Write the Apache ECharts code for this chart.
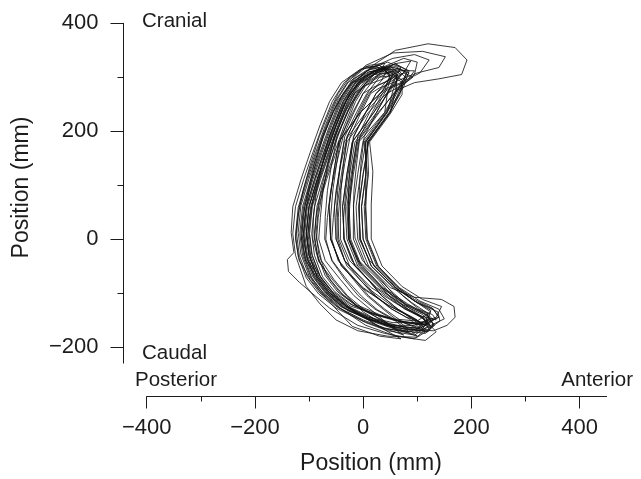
<!DOCTYPE html>
<html>
<head>
<meta charset="utf-8">
<script src="https://cdn.jsdelivr.net/npm/echarts@6/dist/echarts.min.js"></script>
<style>html,body{margin:0;padding:0;background:#fff}#c{width:641px;height:479px}</style>
</head>
<body>
<div id="c"></div>
<script>
// Axis ticks and labels
const xMajorTicks = [-400, -200, 0, 200, 400];
const xMinorTicks = [-300, -100, 100, 300];
const yMajorTicks = [-200, 0, 200, 400];
const yMinorTicks = [-100, 100, 300];
const xName = 'Position (mm)';
const yName = 'Position (mm)';
const annotTop = 'Cranial';
const annotBottom = 'Caudal';
const annotLeft = 'Posterior';
const annotRight = 'Anterior';

// Breathing trajectories [anterior-posterior, cranial-caudal] in mm
const trace01 = [[100,-168],[50,-158],[10,-145],[-30,-125],[-62,-100],[-85,-70],[-100,-30],[-105,10],[-100,60],[-85,110],[-68,160],[-50,210],[-32,255],[-10,290],[20,312],[50,320],[70,305],[50,275],[20,235],[-20,180],[-30,120],[-38,60],[-35,0],[-15,-50],[25,-90],[70,-120],[110,-140],[125,-155],[100,-168]];
const trace02 = [[90,-175],[40,-165],[0,-150],[-45,-127],[-77,-100],[-100,-68],[-115,-28],[-120,12],[-115,62],[-100,112],[-83,162],[-65,212],[-47,256],[-22,288],[10,305],[40,312],[58,298],[45,272],[40,235],[0,182],[-10,120],[-18,62],[-15,2],[5,-48],[45,-90],[80,-122],[120,-142],[130,-160],[90,-175]];
const trace03 = [[110,-160],[62,-152],[20,-140],[-25,-120],[-57,-97],[-80,-68],[-95,-28],[-100,12],[-95,62],[-80,112],[-63,162],[-45,212],[-27,257],[-5,292],[28,315],[60,325],[82,312],[68,282],[45,237],[5,180],[5,120],[-3,60],[0,0],[20,-50],[60,-90],[95,-115],[130,-130],[140,-145],[110,-160]];
const trace04 = [[120,-172],[65,-165],[15,-150],[-35,-128],[-67,-102],[-90,-72],[-105,-32],[-110,10],[-105,60],[-90,110],[-73,160],[-55,210],[-37,255],[-15,290],[15,320],[60,350],[120,362],[170,355],[192,332],[182,305],[140,297],[95,290],[60,275],[30,235],[-10,180],[-20,120],[-28,60],[-25,0],[-5,-50],[35,-90],[75,-120],[115,-140],[130,-158],[120,-172]];
const trace05 = [[95,-178],[45,-170],[5,-155],[-50,-128],[-82,-102],[-105,-72],[-120,-32],[-125,8],[-120,58],[-105,110],[-88,160],[-70,210],[-52,255],[-28,292],[5,322],[55,345],[110,348],[152,338],[140,318],[100,308],[60,292],[45,272],[10,235],[-30,180],[-40,120],[-48,60],[-45,0],[-25,-50],[15,-90],[62,-120],[105,-142],[122,-160],[95,-178]];
const trace06 = [[105,-158],[58,-150],[20,-138],[-20,-122],[-52,-98],[-75,-70],[-90,-30],[-95,10],[-90,60],[-75,110],[-58,160],[-40,208],[-22,252],[0,282],[28,300],[55,303],[72,290],[68,268],[48,235],[8,180],[10,120],[2,60],[5,0],[25,-50],[65,-90],[95,-112],[128,-128],[140,-145],[105,-158]];
const trace07 = [[95,-185],[40,-175],[-10,-160],[-62,-128],[-95,-100],[-118,-80],[-138,-60],[-140,-38],[-128,-25],[-133,12],[-130,60],[-115,110],[-98,160],[-80,210],[-62,255],[-40,290],[-5,315],[30,322],[50,305],[40,275],[5,235],[-35,180],[-45,120],[-53,60],[-50,0],[-30,-50],[10,-92],[55,-125],[100,-150],[115,-168],[95,-185]];
const trace08 = [[130,-170],[80,-168],[40,-158],[0,-145],[-32,-124],[-62,-100],[-85,-70],[-100,-30],[-105,10],[-100,60],[-85,110],[-68,160],[-50,210],[-32,255],[-10,290],[20,312],[48,318],[65,302],[55,275],[45,235],[5,180],[-5,120],[-13,60],[-10,0],[10,-50],[50,-90],[95,-108],[145,-112],[168,-125],[170,-145],[155,-160],[130,-170]];
const trace09 = [[115,-188],[60,-180],[5,-160],[-40,-130],[-72,-102],[-95,-72],[-110,-30],[-115,10],[-110,60],[-95,110],[-78,160],[-60,210],[-42,255],[-20,290],[12,315],[45,328],[70,318],[55,288],[25,235],[-15,180],[-25,120],[-33,60],[-30,0],[-10,-50],[30,-90],[75,-125],[115,-150],[135,-172],[115,-188]];
const trace10 = [[100,-152],[55,-148],[20,-140],[-15,-122],[-47,-98],[-70,-68],[-85,-28],[-90,10],[-85,62],[-70,110],[-53,160],[-35,210],[-17,255],[5,290],[35,318],[75,335],[100,328],[95,305],[70,282],[50,235],[10,180],[0,120],[-8,60],[-5,0],[15,-50],[55,-88],[100,-118],[125,-135],[100,-152]];
const trace11 = [[105,-170],[55,-162],[12,-148],[-35,-125],[-67,-100],[-90,-70],[-105,-30],[-110,10],[-105,60],[-90,110],[-73,160],[-55,210],[-37,255],[-15,290],[12,310],[38,315],[50,300],[35,273],[-5,235],[-45,180],[-55,120],[-63,60],[-60,0],[-40,-50],[0,-92],[50,-125],[95,-148],[115,-160],[105,-170]];
const trace12 = [[95,-160],[45,-160],[5,-148],[-42,-125],[-74,-100],[-97,-70],[-112,-30],[-117,10],[-112,60],[-97,110],[-80,160],[-62,210],[-44,255],[-22,290],[10,310],[40,315],[62,302],[62,275],[42,235],[2,180],[8,120],[5,60],[8,0],[28,-50],[62,-88],[95,-115],[125,-132],[120,-150],[95,-160]];
const trace13 = [[85,-172],[38,-166],[0,-152],[-48,-126],[-80,-100],[-103,-70],[-118,-30],[-123,10],[-118,60],[-103,110],[-86,160],[-68,210],[-50,255],[-28,290],[5,312],[38,320],[62,305],[60,275],[50,235],[10,180],[0,120],[-8,60],[-5,0],[15,-50],[55,-90],[90,-118],[120,-138],[115,-160],[85,-172]];
const trace14 = [[105,-155],[55,-155],[10,-145],[-30,-125],[-62,-100],[-85,-70],[-100,-30],[-105,10],[-100,60],[-85,110],[-68,160],[-50,210],[-32,255],[-10,288],[20,305],[50,308],[72,295],[72,268],[50,232],[12,180],[18,125],[15,65],[15,0],[35,-50],[72,-88],[110,-112],[145,-125],[135,-145],[105,-155]];
const trace15 = [[115,-175],[62,-168],[18,-153],[-38,-126],[-70,-100],[-93,-70],[-108,-30],[-113,10],[-108,60],[-93,110],[-76,160],[-58,210],[-40,255],[-18,290],[15,318],[55,335],[95,342],[122,332],[105,308],[70,290],[40,235],[-8,180],[-18,120],[-26,60],[-23,0],[-3,-50],[37,-90],[82,-120],[120,-142],[132,-160],[115,-175]];
const trace16 = [[100,-182],[45,-180],[-10,-170],[-50,-150],[-80,-120],[-105,-88],[-125,-30],[-130,10],[-125,60],[-110,110],[-93,160],[-75,210],[-57,255],[-35,290],[-2,315],[30,322],[55,308],[45,280],[20,235],[-20,180],[-30,120],[-38,60],[-35,0],[-15,-50],[25,-92],[70,-125],[112,-148],[122,-168],[100,-182]];
const trace17 = [[120,-168],[70,-162],[25,-150],[-27,-125],[-59,-100],[-82,-70],[-97,-30],[-102,10],[-97,60],[-82,110],[-65,160],[-47,210],[-29,255],[-7,290],[25,314],[60,324],[85,312],[75,282],[44,235],[4,180],[5,120],[-3,60],[0,0],[20,-50],[60,-90],[100,-118],[138,-135],[142,-152],[120,-168]];
const trace18 = [[100,-165],[50,-160],[8,-146],[-33,-125],[-65,-100],[-88,-70],[-103,-30],[-108,10],[-103,60],[-88,110],[-71,160],[-53,210],[-35,255],[-13,290],[15,310],[42,312],[52,296],[30,268],[-5,235],[-45,180],[-55,120],[-63,60],[-60,0],[-40,-50],[0,-90],[45,-122],[90,-145],[110,-158],[100,-165]];
const trace19 = [[115,-158],[68,-152],[30,-140],[-12,-122],[-44,-98],[-67,-68],[-82,-28],[-87,12],[-82,62],[-67,112],[-50,160],[-32,210],[-14,255],[8,290],[38,308],[66,312],[80,298],[60,272],[28,235],[-12,180],[-22,120],[-30,60],[-27,0],[-7,-50],[33,-90],[78,-120],[118,-138],[130,-150],[115,-158]];
const trace20 = [[125,-160],[78,-155],[32,-142],[-24,-124],[-56,-100],[-79,-70],[-94,-30],[-99,10],[-94,60],[-79,110],[-62,160],[-44,210],[-26,255],[-4,290],[28,312],[60,320],[80,308],[72,280],[50,235],[8,180],[5,120],[4,60],[7,0],[27,-50],[67,-90],[105,-115],[140,-130],[150,-148],[125,-160]];
const trace21 = [[60,-165],[15,-150],[-28,-133],[-58,-108],[-83,-76],[-106,-40],[-114,0],[-111,42],[-102,90],[-90,140],[-75,190],[-56,235],[-38,268],[-15,298],[15,316],[45,314],[35,296],[5,285],[-16,270],[-34,235],[-52,190],[-66,140],[-78,90],[-87,40],[-90,0],[-82,-40],[-60,-76],[-35,-106],[-4,-130],[35,-150],[60,-165]];
const trace22 = [[85,-172],[40,-160],[0,-135],[-30,-106],[-56,-76],[-82,-42],[-93,0],[-92,40],[-86,90],[-75,140],[-63,190],[-43,235],[-25,270],[0,300],[35,318],[62,312],[48,294],[20,282],[0,270],[-17,235],[-37,190],[-49,140],[-60,90],[-66,40],[-69,0],[-58,-40],[-34,-75],[-9,-105],[22,-130],[60,-152],[85,-172]];
const trace23 = [[105,-165],[60,-150],[26,-131],[-3,-106],[-30,-76],[-57,-40],[-71,0],[-70,42],[-66,90],[-58,140],[-48,190],[-28,236],[-10,270],[15,302],[50,320],[78,312],[60,292],[30,280],[14,270],[-4,235],[-24,190],[-34,140],[-42,90],[-46,40],[-47,0],[-34,-40],[-7,-74],[20,-104],[50,-128],[85,-148],[105,-165]];
const trace24 = [[120,-158],[80,-145],[53,-130],[23,-105],[-2,-75],[-34,-40],[-50,0],[-50,40],[-47,90],[-42,140],[-34,190],[-12,235],[7,270],[30,300],[62,316],[85,308],[70,290],[45,280],[31,270],[12,235],[-10,190],[-18,140],[-23,90],[-26,40],[-26,0],[-10,-40],[22,-75],[47,-105],[77,-130],[110,-145],[120,-158]];
const trace25 = [[135,-150],[105,-142],[83,-130],[53,-105],[28,-75],[-8,-40],[-27,0],[-27,40],[-27,90],[-24,140],[-18,190],[5,235],[24,270],[45,295],[75,308],[92,300],[72,285],[44,270],[25,235],[2,190],[-4,140],[-7,90],[-7,40],[-7,0],[12,-40],[48,-75],[73,-105],[103,-130],[128,-140],[135,-150]];
const trace26 = [[75,-178],[30,-162],[-24,-130],[-54,-105],[-79,-75],[-102,-40],[-111,0],[-108,40],[-100,90],[-88,140],[-74,190],[-55,235],[-37,270],[-15,302],[10,322],[40,326],[30,306],[5,290],[-12,270],[-30,235],[-49,190],[-63,140],[-75,90],[-83,40],[-86,0],[-77,-40],[-54,-75],[-29,-105],[1,-130],[40,-155],[75,-178]];
const trace27 = [[100,-180],[55,-165],[13,-130],[-17,-105],[-42,-75],[-70,-40],[-82,0],[-79,40],[-74,90],[-65,140],[-53,190],[-33,235],[-15,270],[10,300],[40,315],[68,315],[55,298],[28,285],[9,270],[-9,235],[-29,190],[-41,140],[-50,90],[-55,40],[-58,0],[-46,-40],[-18,-75],[7,-105],[37,-130],[75,-160],[100,-180]];
const trace28 = [[115,-172],[75,-155],[40,-130],[10,-105],[-15,-75],[-45,-40],[-60,0],[-60,40],[-56,90],[-49,140],[-41,190],[-19,235],[0,270],[25,302],[58,325],[88,330],[75,308],[45,288],[24,270],[5,235],[-17,190],[-25,140],[-32,90],[-36,40],[-36,0],[-21,-40],[9,-75],[34,-105],[64,-130],[100,-155],[115,-172]];
const trace29 = [[70,-185],[30,-180],[-20,-162],[-45,-135],[-73,-105],[-98,-75],[-118,-40],[-125,0],[-121,40],[-111,90],[-97,140],[-81,190],[-63,235],[-46,270],[-25,300],[5,320],[30,318],[15,300],[-10,285],[-24,270],[-41,235],[-59,190],[-75,140],[-89,90],[-99,40],[-103,0],[-96,-40],[-76,-75],[-51,-105],[-21,-130],[25,-160],[70,-185]];
const trace30 = [[125,-165],[95,-150],[64,-130],[34,-105],[9,-75],[-25,-40],[-42,0],[-42,40],[-41,90],[-36,140],[-30,190],[-7,235],[12,270],[38,298],[70,312],[95,312],[80,292],[50,280],[36,270],[17,235],[-6,190],[-12,140],[-17,90],[-18,40],[-18,0],[-1,-40],[33,-75],[58,-105],[88,-130],[118,-150],[125,-165]];

const traces = [trace01,trace02,trace03,trace04,trace05,trace06,trace07,trace08,trace09,trace10,
                trace11,trace12,trace13,trace14,trace15,trace16,trace17,trace18,trace19,trace20,
                trace21,trace22,trace23,trace24,trace25,trace26,trace27,trace28,trace29,trace30];

const FONT = "'Liberation Sans', Arial, Helvetica, sans-serif";
const INK = '#1c1c1c';

const chart = echarts.init(document.getElementById('c'), null, {renderer: 'canvas'});

const xBase = {
  type: 'value', position: 'bottom', min: -400, max: 450, offset: 33.4,
  splitLine: {show: false}
};
const yBase = {
  type: 'value', position: 'left', min: -230, max: 400, offset: 23.2,
  splitLine: {show: false}
};

chart.setOption({
  animation: false,
  backgroundColor: '#ffffff',
  grid: {left: 146.7, right: 34.4, top: 23.3, bottom: 115.9, containLabel: false},
  xAxis: [
    Object.assign({}, xBase, {
      axisLine: {show: true, onZero: false, lineStyle: {color: INK, width: 1}},
      axisTick: {show: true, length: 12, inside: false, customValues: xMajorTicks, lineStyle: {color: INK, width: 1}},
      axisLabel: {show: true, customValues: xMajorTicks, margin: 20, fontSize: 22, color: INK, fontFamily: FONT,
                  formatter: v => (v < 0 ? '\u2212' + Math.abs(v) : String(v))}
    }),
    Object.assign({}, xBase, {
      axisLine: {show: false, onZero: false},
      axisTick: {show: true, length: 5, inside: false, customValues: xMinorTicks, lineStyle: {color: INK, width: 1}},
      axisLabel: {show: false}
    })
  ],
  yAxis: [
    Object.assign({}, yBase, {
      axisLine: {show: true, onZero: false, lineStyle: {color: INK, width: 1}},
      axisTick: {show: true, length: 13, inside: false, customValues: yMajorTicks, lineStyle: {color: INK, width: 1}},
      axisLabel: {show: true, customValues: yMajorTicks, margin: 25, fontSize: 22, color: INK, fontFamily: FONT,
                  formatter: v => (v < 0 ? '\u2212' + Math.abs(v) : String(v))}
    }),
    Object.assign({}, yBase, {
      axisLine: {show: false, onZero: false},
      axisTick: {show: true, length: 6, inside: false, customValues: yMinorTicks, lineStyle: {color: INK, width: 1}},
      axisLabel: {show: false}
    })
  ],
  graphic: [
    {type: 'text', x: 371, y: 464, style: {text: xName, font: '23px ' + FONT, fill: INK, textAlign: 'center', textVerticalAlign: 'middle'}},
    {type: 'text', x: 22, y: 187.5, rotation: Math.PI / 2, style: {text: yName, font: '23px ' + FONT, fill: INK, textAlign: 'center', textVerticalAlign: 'middle'}},
    {type: 'text', x: 142, y: 21.5, style: {text: annotTop, font: '20.5px ' + FONT, fill: INK, textAlign: 'left', textVerticalAlign: 'middle'}},
    {type: 'text', x: 142, y: 353.5, style: {text: annotBottom, font: '20.5px ' + FONT, fill: INK, textAlign: 'left', textVerticalAlign: 'middle'}},
    {type: 'text', x: 135, y: 380, style: {text: annotLeft, font: '20.5px ' + FONT, fill: INK, textAlign: 'left', textVerticalAlign: 'middle'}},
    {type: 'text', x: 633, y: 380, style: {text: annotRight, font: '20.5px ' + FONT, fill: INK, textAlign: 'right', textVerticalAlign: 'middle'}}
  ],
  series: traces.map((t, i) => ({
    name: 'trace' + (i + 1),
    type: 'line',
    xAxisIndex: 0, yAxisIndex: 0,
    data: t,
    showSymbol: false,
    symbol: 'none',
    smooth: false,
    silent: true,
    lineStyle: {color: '#111111', width: 1, opacity: 0.82}
  }))
});
</script>
</body>
</html>
